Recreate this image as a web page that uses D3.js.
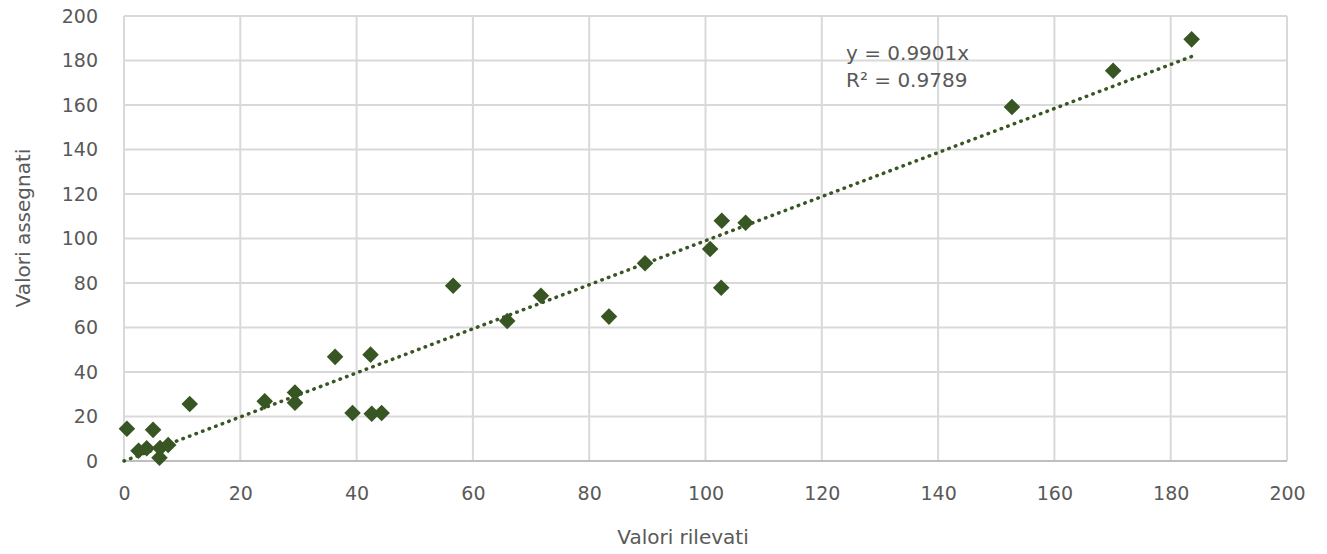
<!DOCTYPE html>
<html>
<head>
<meta charset="utf-8">
<script src="https://cdn.jsdelivr.net/npm/d3@7"></script>
<style>
  body { margin: 0; background: #fff; }
  text { font-family: "DejaVu Sans", sans-serif; fill: #595959; }
</style>
</head>
<body>
<div id="viz-container"></div>
<script>
// measured vs assigned values
const rilevati = [0.5, 5.0, 11.3, 2.5, 3.9, 6.2, 7.6, 6.1, 24.2, 29.4, 29.4, 36.3, 39.3, 42.4,
  42.6, 44.3, 56.6, 65.9, 71.7, 83.4, 89.6, 100.8, 102.7, 102.8, 106.9, 152.7, 170.1, 183.6];
const assegnati = [14.5, 14.0, 25.6, 4.6, 5.7, 5.8, 7.2, 1.5, 26.8, 30.8, 26.2, 46.8, 21.6, 47.8,
  21.2, 21.6, 78.8, 62.9, 74.3, 64.9, 88.9, 95.3, 77.9, 108.0, 107.1, 159.1, 175.4, 189.5];
const ticks = [0, 20, 40, 60, 80, 100, 120, 140, 160, 180, 200];
const slope = 0.9901;
const trendLabels = ["y = 0.9901x", "R\u00b2 = 0.9789"];

const data = rilevati.map((x, i) => ({x: x, y: assegnati[i]}));

const width = 1327, height = 554;
const plotLeft = 124, plotRight = 1287, plotTop = 16, plotBottom = 461;

let svg = d3.select("#viz-container")
  .append("svg")
    .attr("width", width)
    .attr("height", height);

let x = d3.scaleLinear().domain([0, 200]).range([plotLeft, plotRight]);
let y = d3.scaleLinear().domain([0, 200]).range([plotBottom, plotTop]);

// gridlines
svg.append("g").selectAll("line").data(ticks)
  .enter().append("line")
    .attr("x1", d => x(d)).attr("x2", d => x(d))
    .attr("y1", plotTop).attr("y2", plotBottom)
    .attr("stroke", "#d9d9d9").attr("stroke-width", 2);

svg.append("g").selectAll("line").data(ticks)
  .enter().append("line")
    .attr("x1", plotLeft).attr("x2", plotRight)
    .attr("y1", d => y(d)).attr("y2", d => y(d))
    .attr("stroke", d => d == 0 ? "#bfbfbf" : "#d9d9d9")
    .attr("stroke-width", 2);

// axes (labels only)
let xAxis = svg.append("g")
  .attr("transform", "translate(0," + (plotBottom + 32) + ")")
  .call(d3.axisBottom(x).tickValues(ticks).tickSize(0));
xAxis.select(".domain").remove();
xAxis.selectAll("text").attr("font-size", 19).attr("fill", "#595959").attr("dy", "0.35em").attr("y", 0);

let yAxis = svg.append("g")
  .attr("transform", "translate(" + (plotLeft - 26) + ",0)")
  .call(d3.axisLeft(y).tickValues(ticks).tickSize(0));
yAxis.select(".domain").remove();
yAxis.selectAll("text").attr("font-size", 19).attr("fill", "#595959").attr("x", 0);

// trend line
let xmax = d3.max(rilevati);
svg.append("line")
  .attr("x1", x(0)).attr("y1", y(0))
  .attr("x2", x(xmax)).attr("y2", y(slope * xmax))
  .attr("stroke", "#375623")
  .attr("stroke-width", 3.5)
  .attr("stroke-linecap", "round")
  .attr("stroke-dasharray", "0.5,6.5");

// points
svg.append("g").selectAll("path").data(data)
  .enter().append("path")
    .attr("d", d3.symbol(d3.symbolDiamond2, 175))
    .attr("transform", d => "translate(" + x(d.x) + "," + y(d.y) + ")")
    .attr("fill", "#375623");

// equation label
svg.append("g").selectAll("text").data(trendLabels)
  .enter().append("text")
    .attr("x", 846)
    .attr("y", (d, i) => 53 + i * 27)
    .attr("dy", "0.35em")
    .attr("font-size", 20)
    .text(d => d);

// axis titles
svg.append("text")
  .attr("x", 683).attr("y", 537).attr("dy", "0.35em")
  .attr("text-anchor", "middle")
  .attr("font-size", 20)
  .text("Valori rilevati");

svg.append("text")
  .attr("transform", "translate(23,228) rotate(-90)")
  .attr("dy", "0.35em")
  .attr("text-anchor", "middle")
  .attr("font-size", 20)
  .text("Valori assegnati");
</script>
</body>
</html>
